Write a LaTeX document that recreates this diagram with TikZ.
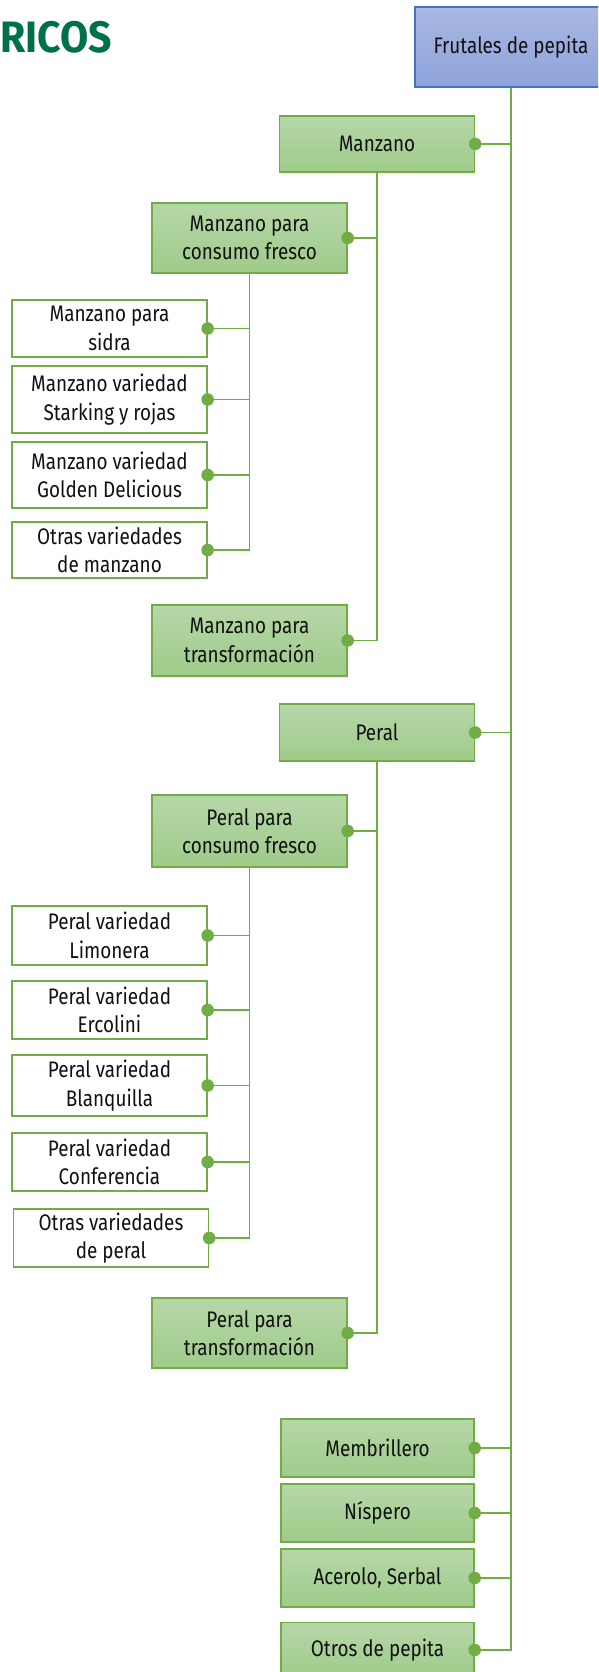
\documentclass[tikz,border=0pt]{standalone}
\usepackage{fontspec}
\setmainfont{Fira Sans}[FakeStretch=0.84]
\newfontfamily\titlefont{Fira Sans}[FakeStretch=0.93]
\usepackage{tikz}
\usetikzlibrary{positioning}
\definecolor{cTitle}{HTML}{00704A}
\definecolor{cLine}{HTML}{70AD47}
\definecolor{cGrTop}{HTML}{B6D7A8}
\definecolor{cGrBot}{HTML}{9FCB8A}
\definecolor{cBlTop}{HTML}{AAB8E2}
\definecolor{cBlBot}{HTML}{8DA3DA}
\definecolor{cBlDraw}{HTML}{4472C4}
\definecolor{cText}{HTML}{111111}
\tikzset{
  blk/.style={line width=1.3pt, inner sep=2pt, align=center, text=cText,
              font=\fontsize{22.5}{28.5}\selectfont, minimum width=195pt},
  gbox/.style={blk, draw=cLine, top color=cGrTop, bottom color=cGrBot},
  wbox/.style={blk, draw=cLine, fill=white},
  rootbox/.style={blk, draw=cBlDraw, top color=cBlTop, bottom color=cBlBot,
                  minimum width=192pt, minimum height=80pt},
  conn/.style={draw=cLine, line width=1.8pt},
  dotmark/.style={fill=cLine}
}

\begin{document}
\begin{tikzpicture}[x=1pt, y=-1pt]
\clip (0,0) rectangle (598,1672);
\node[anchor=base west, font=\titlefont\fontsize{44}{44}\selectfont\bfseries, text=cTitle, inner sep=0pt] (title) at (0.5,53) {RICOS};
% root
\node[rootbox] (root) at (511,47) {Frutales de pepita};
% manzano
\node[gbox, minimum height=56pt] (manz) at (377,144) {Manzano};
\node[gbox, minimum height=70pt] (mcf) at (249.5,238) {Manzano para\\consumo fresco};
\node[wbox, minimum height=57pt] (msid) at (109.5,328.5) {Manzano para\\sidra};
\node[wbox, minimum height=67pt] (mstar) at (109.5,399.5) {Manzano variedad\\Starking y rojas};
\node[wbox, minimum height=66pt] (mgold) at (109.5,475) {Manzano variedad\\Golden Delicious};
\node[wbox, minimum height=56pt] (motr) at (109.5,550) {Otras variedades\\de manzano};
\node[gbox, minimum height=71pt] (mtr) at (249.5,640.5) {Manzano para\\transformación};
% peral
\node[gbox, minimum height=57pt] (peral) at (377,732.5) {Peral};
\node[gbox, minimum height=72pt] (pcf) at (249.5,831) {Peral para\\consumo fresco};
\node[wbox, minimum height=59pt] (plim) at (109.5,935.5) {Peral variedad\\Limonera};
\node[wbox, minimum height=58pt] (perc) at (109.5,1010) {Peral variedad\\Ercolini};
\node[wbox, minimum height=61pt] (pbla) at (109.5,1085.5) {Peral variedad\\Blanquilla};
\node[wbox, minimum height=58pt] (pcon) at (109.5,1162) {Peral variedad\\Conferencia};
\node[wbox, minimum height=58pt] (potr) at (111,1238) {Otras variedades\\de peral};
\node[gbox, minimum height=70pt] (ptr) at (249.5,1333) {Peral para\\transformación};
% otros
\node[gbox, minimum height=58pt, minimum width=193pt] (memb) at (377.5,1448) {Membrillero};
\node[gbox, minimum height=58pt, minimum width=193pt] (nisp) at (377.5,1513) {Níspero};
\node[gbox, minimum height=58pt, minimum width=193pt] (acer) at (377.5,1578) {Acerolo, Serbal};
\node[gbox, minimum height=55pt, minimum width=193pt] (otros) at (377.5,1650) {Otros de pepita};
% connectors
\foreach \c/\p in {manz/root, peral/root, memb/root, nisp/root, acer/root, otros/root,
                   mcf/manz, mtr/manz, msid/mcf, mstar/mcf, mgold/mcf, motr/mcf,
                   pcf/peral, ptr/peral, plim/pcf, perc/pcf, pbla/pcf, pcon/pcf, potr/pcf}
{
  \draw[conn] (\c.east) -| (\p.south);
  \fill[dotmark] (\c.east) circle (6.3);
}
\end{tikzpicture}
\end{document}
